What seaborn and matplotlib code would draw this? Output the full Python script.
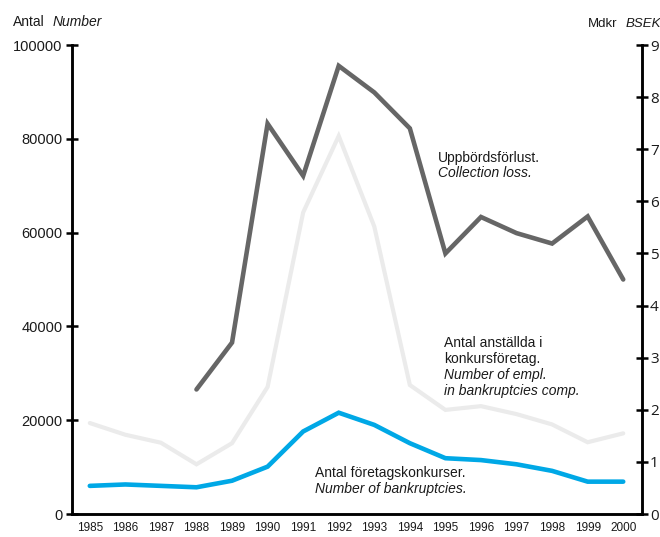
import matplotlib
matplotlib.use("Agg")
import matplotlib.pyplot as plt
import seaborn as sns
import pandas as pd

years = list(range(1985, 2001))
bankruptcies = [6000, 6300, 6000, 5700, 7100, 10100, 17600, 21600, 19000, 15100,
                11900, 11500, 10600, 9200, 6900, 6900]
employees = [19400, 16900, 15200, 10600, 15100, 27100, 64300, 80600, 61300, 27500,
             22200, 23000, 21300, 19100, 15300, 17200]
loss_years = list(range(1988, 2001))
collection_loss = [2.39, 3.29, 7.49, 6.49, 8.60, 8.09, 7.40, 5.00, 5.70, 5.39, 5.19, 5.71, 4.50]

left_ticks = [0, 20000, 40000, 60000, 80000, 100000]
right_ticks = list(range(0, 10))

sns.set_theme(style="white")
plt.rcParams['font.family'] = ['Liberation Sans', 'DejaVu Sans']

df = pd.DataFrame({"year": years, "bankruptcies": bankruptcies, "employees": employees})
df_loss = pd.DataFrame({"year": loss_years, "loss": collection_loss})

fig = plt.figure(figsize=(6.6, 5.37), dpi=100)
ax = fig.add_axes([0.1091, 0.0428, 0.8632, 0.8734])
ax2 = ax.twinx()

sns.lineplot(data=df, x="year", y="employees", ax=ax, color="#ebebeb", linewidth=3.0,
             solid_capstyle="round", solid_joinstyle="miter")
sns.lineplot(data=df, x="year", y="bankruptcies", ax=ax, color="#00a8e6", linewidth=3.3,
             solid_capstyle="round", solid_joinstyle="miter")
sns.lineplot(data=df_loss, x="year", y="loss", ax=ax2, color="#666666", linewidth=3.3,
             solid_capstyle="round", solid_joinstyle="miter")

ax.set_xlim(1984.5, 2000.52)
ax.set_ylim(0, 100000)
ax2.set_ylim(0, 9)
ax.set_xticks(years)
ax.set_xticklabels([str(y) for y in years], fontsize=8.5)
ax.set_yticks(left_ticks)
ax.set_yticklabels([str(v) for v in left_ticks], fontsize=10.5)
ax2.set_yticks(right_ticks)
ax2.set_yticklabels([str(v) for v in right_ticks], fontsize=11, family=['Open Sans', 'DejaVu Sans'])
ax.set_xlabel("")
ax.set_ylabel("")
ax2.set_ylabel("")

for a in (ax, ax2):
    for s in a.spines.values():
        s.set_linewidth(1.8)
        s.set_color("black")
    a.spines["top"].set_visible(False)
    a.grid(False)
ax.tick_params(axis="both", direction="inout", length=8, width=1.8, color="black",
               labelcolor="#1a1a1a", pad=3)
ax.tick_params(axis="x", pad=2)
ax2.tick_params(axis="y", direction="inout", length=8, width=1.8, color="black",
                labelcolor="#1a1a1a", pad=2)
ax.patch.set_visible(False)

def fx(px):
    return px / 660.0

def fy(py):
    return 1 - py / 537.0

TXT = "#1a1a1a"
fig.text(fx(13), fy(21.5), "Antal", fontsize=10, va="center", ha="left", color=TXT)
fig.text(fx(53), fy(21.5), "Number", fontsize=10, va="center", ha="left", style="italic", color=TXT)
fig.text(fx(588), fy(24), "Mdkr", fontsize=9.5, va="center", ha="left", color=TXT)
fig.text(fx(626), fy(24), "BSEK", fontsize=9.5, va="center", ha="left", style="italic", color=TXT)

fig.text(fx(438), fy(158), "Uppbördsförlust.", fontsize=10, va="center", ha="left", color=TXT)
fig.text(fx(438), fy(173), "Collection loss.", fontsize=10, va="center", ha="left", style="italic", color=TXT)

fig.text(fx(444), fy(343), "Antal anställda i", fontsize=10, va="center", ha="left", color=TXT)
fig.text(fx(444), fy(359), "konkursföretag.", fontsize=10, va="center", ha="left", color=TXT)
fig.text(fx(444), fy(375), "Number of empl.", fontsize=10, va="center", ha="left", style="italic", color=TXT)
fig.text(fx(444), fy(391), "in bankruptcies comp.", fontsize=10, va="center", ha="left", style="italic", color=TXT)

fig.text(fx(315), fy(473), "Antal företagskonkurser.", fontsize=10, va="center", ha="left", color=TXT)
fig.text(fx(315), fy(489), "Number of bankruptcies.", fontsize=10, va="center", ha="left", style="italic", color=TXT)

fig.savefig("out.png", dpi=100, facecolor="white")
